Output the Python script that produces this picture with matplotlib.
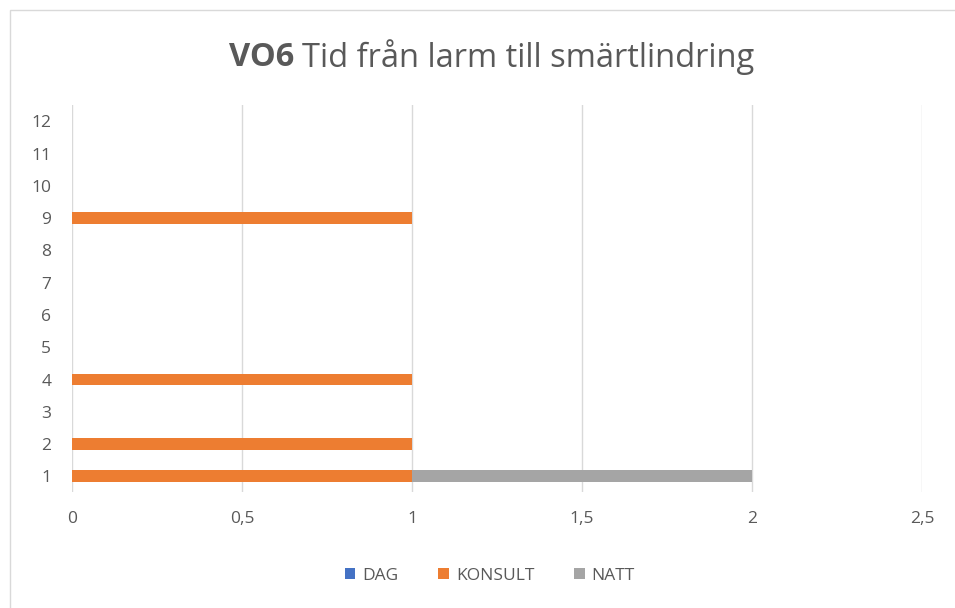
import matplotlib.pyplot as plt
from matplotlib.patches import Rectangle
from matplotlib.ticker import FuncFormatter
import numpy as np

categories = [str(i) for i in range(1, 13)]
dag = [0, 0, 0, 0, 0, 0, 0, 0, 0, 0, 0, 0]
konsult = [1, 1, 0, 1, 0, 0, 0, 0, 1, 0, 0, 0]
natt = [1, 0, 0, 0, 0, 0, 0, 0, 0, 0, 0, 0]

plt.rcParams['font.family'] = ['Open Sans', 'DejaVu Sans']
TXT = '#595959'

fig = plt.figure(figsize=(9.55, 6.08), dpi=100)
ax = fig.add_axes([0.0754, 0.19, 0.89, 0.637])

y = np.arange(len(categories))
h = 0.37
ax.barh(y, dag, h, color='#4472c4', label='DAG')
ax.barh(y, konsult, h, left=dag, color='#ed7d31', label='KONSULT')
left2 = np.array(dag) + np.array(konsult)
ax.barh(y, natt, h, left=left2, color='#a5a5a5', label='NATT')

ax.set_xlim(0, 2.5)
ax.set_ylim(-0.5, len(categories) - 0.5)
ax.set_yticks(y)
ax.set_yticklabels(categories)
ax.set_xticks(np.arange(0, 2.51, 0.5))
ax.xaxis.set_major_formatter(FuncFormatter(lambda v, p: ('%g' % v).replace('.', ',')))
ax.tick_params(length=0, colors=TXT, labelsize=12.5)
ax.tick_params(axis='x', pad=13)
ax.tick_params(axis='y', pad=15)
ax.grid(axis='x', color='#d9d9d9', linewidth=1)
ax.set_axisbelow(True)
for s in ax.spines.values():
    s.set_visible(False)

# title: bold "VO6" followed by regular text, centred as one line
t1 = fig.text(0, 0.906, 'VO6', fontsize=23.5, fontweight='bold', color=TXT, va='center', ha='left')
t2 = fig.text(0, 0.906, 'Tid från larm till smärtlindring', fontsize=23.5, color=TXT,
              va='center', ha='left')
fig.canvas.draw()
w1 = t1.get_window_extent().width
w2 = t2.get_window_extent().width
gap = 8
start = 492 - (w1 + gap + w2) / 2
t1.set_x(start / fig.bbox.width)
t2.set_x((start + w1 + gap) / fig.bbox.width)

leg = fig.legend(loc='center', bbox_to_anchor=(0.513, 0.053), ncol=3, frameon=False,
                 fontsize=12.5, handlelength=0.6, handleheight=0.6, handletextpad=0.4,
                 columnspacing=2.3)
for t in leg.get_texts():
    t.set_color(TXT)

fig.patches.append(Rectangle((10 / 955, -0.1), 1.1, (598 / 608) + 0.1, transform=fig.transFigure,
                             fill=False, edgecolor='#d9d9d9', linewidth=1))

fig.savefig('out.png', dpi=100)
